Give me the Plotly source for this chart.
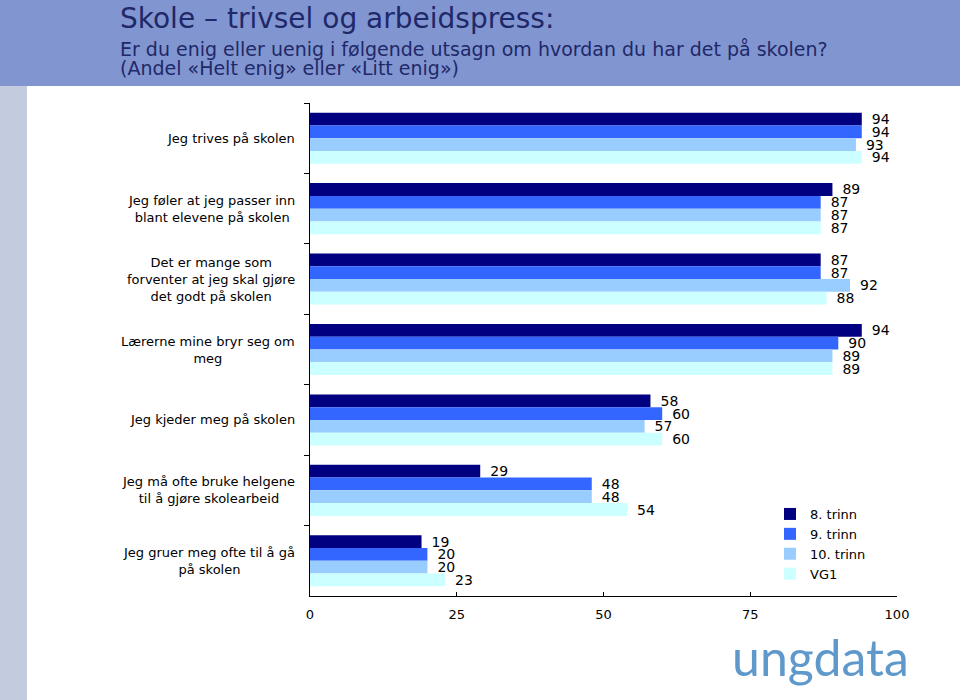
import plotly.graph_objects as go

categories = [
    "Jeg trives på skolen",
    "Jeg føler at jeg passer inn<br>blant elevene på skolen",
    "Det er mange som<br>forventer at jeg skal gjøre<br>det godt på skolen",
    "Lærerne mine bryr seg om<br>meg",
    "Jeg kjeder meg på skolen",
    "Jeg må ofte bruke helgene<br>til å gjøre skolearbeid",
    "Jeg gruer meg ofte til å gå<br>på skolen",
]
series_names = ["8. trinn", "9. trinn", "10. trinn", "VG1"]
trinn8 = [94, 89, 87, 94, 58, 29, 19]
trinn9 = [94, 87, 87, 90, 60, 48, 20]
trinn10 = [93, 87, 92, 89, 57, 48, 20]
vg1 = [94, 87, 88, 89, 60, 54, 23]
x_ticks = [0, 25, 50, 75, 100]

colors = ["#000080", "#3366FF", "#99CCFF", "#CCFFFF"]
FONT = "DejaVu Sans"

W, H = 960, 700
L, R, T, B = 310, 897, 103, 596


def xp(px):
    return (px - L) / (R - L)


def yp(py):
    return (B - py) / (B - T)


fig = go.Figure()
for name, vals, col in zip(series_names, [trinn8, trinn9, trinn10, vg1], colors):
    fig.add_trace(go.Bar(
        y=categories, x=vals, name=name, orientation="h",
        marker=dict(color=col, line=dict(width=0)),
        text=vals, texttemplate="\u2002%{x}", textposition="outside",
        constraintext="none", cliponaxis=False,
        textfont=dict(family=FONT, size=14, color="black"),
    ))

shapes = [
    dict(type="rect", xref="paper", yref="paper", x0=xp(0), x1=xp(W), y0=yp(86), y1=yp(0),
         fillcolor="#8196D1", line=dict(width=0), layer="below"),
    dict(type="rect", xref="paper", yref="paper", x0=xp(0), x1=xp(27), y0=yp(H), y1=yp(86),
         fillcolor="#C3CCDF", line=dict(width=0), layer="below"),
]

annotations = []
for c in categories:
    annotations.append(dict(
        x=xp(297), xref="paper", y=c, yref="y", text=c, showarrow=False,
        xanchor="right", yanchor="middle", align="center",
        font=dict(family=FONT, size=13, color="black"),
    ))

annotations += [
    dict(x=xp(118), y=yp(18), xref="paper", yref="paper", xanchor="left", yanchor="middle",
         text="Skole – trivsel og arbeidspress:", showarrow=False,
         font=dict(family=FONT, size=28, color="#1F2868")),
    dict(x=xp(118), y=yp(49), xref="paper", yref="paper", xanchor="left", yanchor="middle",
         text="Er du enig eller uenig i følgende utsagn om hvordan du har det på skolen?",
         showarrow=False, font=dict(family=FONT, size=19, color="#1F2868")),
    dict(x=xp(118), y=yp(68), xref="paper", yref="paper", xanchor="left", yanchor="middle",
         text="(Andel «Helt enig» eller «Litt enig»)",
         showarrow=False, font=dict(family=FONT, size=19, color="#1F2868")),
    dict(x=xp(820), y=yp(657), xref="paper", yref="paper", xanchor="center", yanchor="middle",
         text="ungdata", showarrow=False,
         font=dict(family="Lato", size=50, color="#5F99CC")),
]

fig.update_layout(
    width=W, height=H,
    margin=dict(l=L, r=W - R, t=T, b=H - B, pad=0),
    paper_bgcolor="white", plot_bgcolor="white",
    barmode="group", bargap=0.275, bargroupgap=0,
    showlegend=True,
    legend=dict(x=xp(770), y=yp(499), xanchor="left", yanchor="top",
                font=dict(family=FONT, size=13, color="black"),
                traceorder="normal", bgcolor="rgba(0,0,0,0)", itemclick=False),
    shapes=shapes, annotations=annotations,
    font=dict(family=FONT, size=13, color="black"),
)
fig.update_xaxes(range=[0, 100], tickvals=x_ticks, showgrid=False, zeroline=False,
                 showline=True, linecolor="black", linewidth=1,
                 ticks="inside", ticklen=4, tickcolor="black", ticklabelstandoff=6,
                 tickfont=dict(family=FONT, size=13, color="black"))
fig.update_yaxes(autorange="reversed", showgrid=False, showline=True, linecolor="black",
                 linewidth=1, ticks="outside", ticklen=5, tickcolor="black",
                 tickson="boundaries", showticklabels=False)

fig.write_html("out.html", config={"displayModeBar": False},
               post_script="document.body.style.margin='0';")
